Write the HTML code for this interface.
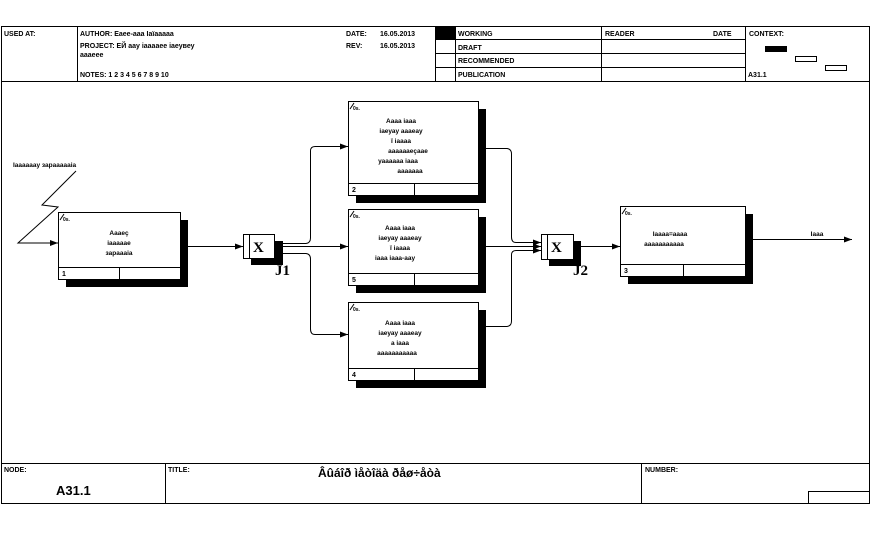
<!DOCTYPE html>
<html><head><meta charset="utf-8"><style>
body{margin:0;background:#fff;width:872px;height:539px;overflow:hidden}
svg{display:block}
text{font-family:"Liberation Sans",sans-serif;font-weight:bold;fill:#000}
</style></head><body>
<svg width="872" height="539" viewBox="0 0 872 539" xmlns="http://www.w3.org/2000/svg">
<defs><marker id="a" markerWidth="8" markerHeight="6" refX="8" refY="3" orient="auto" markerUnits="userSpaceOnUse"><path d="M0,0 L8,3 L0,6 Z" fill="#000"/></marker></defs>
<g fill="none" stroke="#000" stroke-width="1">
<rect x="1.5" y="26.5" width="868" height="477"/>
<line x1="1" y1="81.5" x2="870" y2="81.5"/>
<line x1="77.5" y1="26" x2="77.5" y2="81"/>
<line x1="435.5" y1="26" x2="435.5" y2="81"/>
<line x1="455.5" y1="26" x2="455.5" y2="81"/>
<line x1="601.5" y1="26" x2="601.5" y2="81"/>
<line x1="745.5" y1="26" x2="745.5" y2="81"/>
<line x1="435" y1="39.5" x2="745" y2="39.5"/>
<line x1="435" y1="53.5" x2="745" y2="53.5"/>
<line x1="435" y1="67.5" x2="745" y2="67.5"/>
<line x1="1" y1="463.5" x2="870" y2="463.5"/>
<line x1="165.5" y1="463" x2="165.5" y2="504"/>
<line x1="641.5" y1="463" x2="641.5" y2="504"/>
<polyline points="808.5,504 808.5,491.5 870,491.5"/>
<rect x="795.5" y="56.5" width="21" height="5"/>
<rect x="825.5" y="65.5" width="21" height="5"/>
</g>
<rect x="436" y="27" width="19" height="12" fill="#000"/>
<rect x="765" y="46" width="22" height="6" fill="#000"/>
<g font-size="7">
<text x="4" y="36">USED AT:</text>
<text x="80" y="36">AUTHOR:  Еаее-ааа Іаїааааа</text>
<text x="80" y="48">PROJECT:  ЕЙ аау іааааее іаеувеу</text>
<text x="80" y="57">аааеее</text>
<text x="80" y="77">NOTES:  1  2  3  4  5  6  7  8  9  10</text>
<text x="346" y="36">DATE:</text><text x="380" y="36">16.05.2013</text>
<text x="346" y="48">REV:</text><text x="380" y="48">16.05.2013</text>
<text x="458" y="36">WORKING</text>
<text x="458" y="50">DRAFT</text>
<text x="458" y="63">RECOMMENDED</text>
<text x="458" y="77">PUBLICATION</text>
<text x="605" y="36">READER</text>
<text x="713" y="36">DATE</text>
<text x="749" y="36">CONTEXT:</text>
<text x="748" y="77">A31.1</text>
<text x="4" y="472">NODE:</text>
<text x="168" y="472">TITLE:</text>
<text x="645" y="472">NUMBER:</text>
</g>
<text x="56" y="495" font-size="13" font-weight="normal">A31.1</text>
<text x="318" y="477" font-size="12" font-weight="normal">Âûáîð ìåòîäà ðåø÷åòà</text>

<!-- shadows -->
<g fill="#000">
<rect x="66" y="220" width="122" height="67"/>
<rect x="356" y="109" width="130" height="94"/>
<rect x="356" y="217" width="130" height="76"/>
<rect x="356" y="310" width="130" height="78"/>
<rect x="628" y="214" width="125" height="70"/>
<rect x="251" y="241" width="32" height="24"/>
<rect x="549" y="241" width="32" height="25"/>
</g>
<g fill="#fff" stroke="#000">
<rect x="58.5" y="212.5" width="122" height="67"/>
<rect x="348.5" y="101.5" width="130" height="94"/>
<rect x="348.5" y="209.5" width="130" height="76"/>
<rect x="348.5" y="302.5" width="130" height="78"/>
<rect x="620.5" y="206.5" width="125" height="70"/>
<rect x="243.5" y="234.5" width="31" height="24"/>
<rect x="541.5" y="234.5" width="32" height="25"/>
</g>
<g fill="none" stroke="#000">
<line x1="58" y1="267.5" x2="180" y2="267.5"/><line x1="119.5" y1="267" x2="119.5" y2="279"/>
<line x1="348" y1="183.5" x2="478" y2="183.5"/><line x1="414.5" y1="183" x2="414.5" y2="195"/>
<line x1="348" y1="273.5" x2="478" y2="273.5"/><line x1="414.5" y1="273" x2="414.5" y2="285"/>
<line x1="348" y1="368.5" x2="478" y2="368.5"/><line x1="414.5" y1="368" x2="414.5" y2="380"/>
<line x1="620" y1="264.5" x2="745" y2="264.5"/><line x1="683.5" y1="264" x2="683.5" y2="276"/>
<line x1="249.5" y1="234" x2="249.5" y2="258"/>
<line x1="547.5" y1="234" x2="547.5" y2="259"/>
<line x1="60" y1="220" x2="64" y2="214"/><line x1="350" y1="109" x2="354" y2="103"/><line x1="350" y1="217" x2="354" y2="211"/><line x1="350" y1="310" x2="354" y2="304"/><line x1="622" y1="214" x2="626" y2="208"/>
<!-- connectors -->
<polyline points="76,171 42,205 58,207 18,243 58,243" marker-end="url(#a)"/>
<line x1="180" y1="246.5" x2="243" y2="246.5" marker-end="url(#a)"/>
<path d="M283,243.5 H306 Q310.5,243 310.5,238 V151 Q310.5,146.5 315,146.5 H348" marker-end="url(#a)"/>
<line x1="283" y1="246.5" x2="348" y2="246.5" marker-end="url(#a)"/>
<path d="M283,253.5 H306 Q310.5,254 310.5,259 V329 Q310.5,334.5 315,334.5 H348" marker-end="url(#a)"/>
<path d="M478,148.5 H507 Q511.5,149 511.5,154 V237 Q511.5,242.5 516,242.5 H541" marker-end="url(#a)"/>
<line x1="478" y1="246.5" x2="541" y2="246.5" marker-end="url(#a)"/>
<path d="M478,326.5 H507 Q511.5,326 511.5,321 V255 Q511.5,250.5 516,250.5 H541" marker-end="url(#a)"/>
<line x1="581" y1="246.5" x2="620" y2="246.5" marker-end="url(#a)"/>
<line x1="745" y1="239.5" x2="852" y2="239.5" marker-end="url(#a)"/>
</g>
<g font-size="5"><text x="63" y="221">0ѕ.</text><text x="353" y="110">0ѕ.</text><text x="353" y="218">0ѕ.</text><text x="353" y="311">0ѕ.</text><text x="625" y="215">0ѕ.</text></g>
<g font-size="7">
<text x="62" y="276">1</text><text x="352" y="192">2</text><text x="352" y="282">5</text><text x="352" y="377">4</text><text x="624" y="273">3</text>
</g>
<g font-size="6.5" text-anchor="middle">
<text x="13" y="167" text-anchor="start">Іаааааау зараааааіа</text>
<text x="119" y="235">Аааеç</text><text x="119" y="245">іааааае</text><text x="119" y="255">зараааіа</text>
<text x="401" y="123">Аааа іааа</text><text x="401" y="133">іаеуау аааеау</text><text x="401" y="143">ї іаааа</text><text x="408" y="153">ааааааеçаае</text><text x="398" y="163">уаааааа іааа</text><text x="410" y="173">ааааааа</text>
<text x="400" y="230">Аааа іааа</text><text x="400" y="240">іаеуау аааеау</text><text x="400" y="250">ї іаааа</text><text x="395" y="260">іааа іааа-аау</text>
<text x="400" y="325">Аааа іааа</text><text x="400" y="335">іаеуау аааеау</text><text x="400" y="345">а іааа</text><text x="397" y="355">ааааааааааа</text>
<text x="670" y="236">Іаааа=аааа</text><text x="664" y="246">ааааааааааа</text>
<text x="817" y="236">Іааа</text>
</g>
<g font-family="Liberation Serif" font-weight="bold">
<text x="253" y="252" font-size="15" style="font-family:'Liberation Serif',serif">X</text>
<text x="551" y="252" font-size="15" style="font-family:'Liberation Serif',serif">X</text>
<text x="275" y="275" font-size="15" style="font-family:'Liberation Serif',serif">J1</text>
<text x="573" y="275" font-size="15" style="font-family:'Liberation Serif',serif">J2</text>
</g>
</svg>
</body></html>
